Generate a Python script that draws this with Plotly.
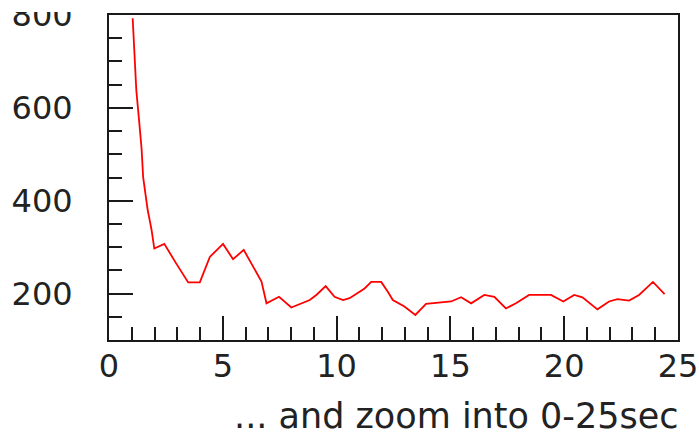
import plotly.graph_objects as go

# time (s) and value
t = [1.04, 1.10, 1.20, 1.32, 1.43, 1.50, 1.60, 1.70, 1.80, 1.87, 1.99, 2.20, 2.43,
     2.95, 3.48, 3.99, 4.43, 5.01, 5.45, 5.92, 6.18, 6.48, 6.70, 6.92, 7.13, 7.47,
     8.01, 8.38, 8.82, 9.11, 9.52, 9.91, 10.28, 10.57, 10.93, 11.23, 11.52, 11.96,
     12.25, 12.47, 12.98, 13.46, 13.93, 14.50, 15.03, 15.47, 15.91, 16.49, 16.93,
     17.44, 17.88, 18.46, 19.42, 19.96, 20.44, 20.80, 21.46, 21.97, 22.34, 22.85,
     23.29, 23.90, 24.41]
v = [793, 720, 638, 574, 513, 451, 410, 380, 355, 337, 297, 302, 307,
     265, 224, 224, 279, 307, 274, 294, 272, 247, 226, 179, 185, 193,
     170, 178, 186, 197, 216, 193, 186, 190, 201, 211, 225, 225,
     204, 186, 172, 154, 178, 180, 183, 192, 179, 197, 193,
     168, 179, 197, 197, 183, 197, 192, 166, 183, 188, 185,
     197, 225, 199]

x_range = [0, 25]
y_range = [100, 800]
x_ticks = [0, 5, 10, 15, 20, 25]
y_ticks = [200, 400, 600, 800]
x_title = "... and zoom into 0-25sec"

W, H = 699, 435
ML, MR, MT, MB = 109, 21, 15, 95

fig = go.Figure()
fig.add_trace(go.Scatter(x=t, y=v, mode="lines",
                         line=dict(color="#ff0000", width=1.8),
                         showlegend=False, hoverinfo="skip"))

axis_common = dict(showgrid=False, zeroline=False, showline=True,
                   linecolor="#1a1a1a", linewidth=2, mirror=True,
                   ticks="inside", tickcolor="#1a1a1a", tickwidth=2,
                   ticklen=24, ticklabeloverflow="allow", automargin=False,
                   tickfont=dict(family="DejaVu Sans", size=32, color="#222"))

fig.update_xaxes(range=x_range, tickvals=x_ticks,
                 ticktext=[str(x) for x in x_ticks],
                 ticklabelstandoff=-3,
                 minor=dict(ticks="inside", ticklen=13, tickwidth=2,
                            tickcolor="#1a1a1a", dtick=1, tick0=0),
                 **axis_common)
fig.update_yaxes(range=y_range, tickvals=y_ticks,
                 ticktext=[str(y) for y in y_ticks],
                 ticklabelstandoff=28,
                 minor=dict(ticks="inside", ticklen=13, tickwidth=2,
                            tickcolor="#1a1a1a", dtick=50, tick0=0),
                 **axis_common)

plot_w = W - ML - MR
plot_h = H - MT - MB
fig.add_annotation(text=x_title, xref="paper", yref="paper",
                   x=(681 - ML) / plot_w, y=-(416 - (H - MB)) / plot_h,
                   xanchor="right", yanchor="middle", showarrow=False,
                   font=dict(family="DejaVu Sans", size=35, color="#222"))

# white strip at the very top that clips the top tick label as in the reference
fig.add_shape(type="rect", xref="paper", yref="paper", layer="above",
              x0=-1, x1=-0.01, y0=1 + 3 / plot_h, y1=1 + MT / plot_h + 0.01,
              line=dict(width=0), fillcolor="white")

fig.update_layout(width=W, height=H,
                  margin=dict(l=ML, r=MR, t=MT, b=MB, autoexpand=False),
                  paper_bgcolor="white", plot_bgcolor="white")

fig.write_html("out.html")
